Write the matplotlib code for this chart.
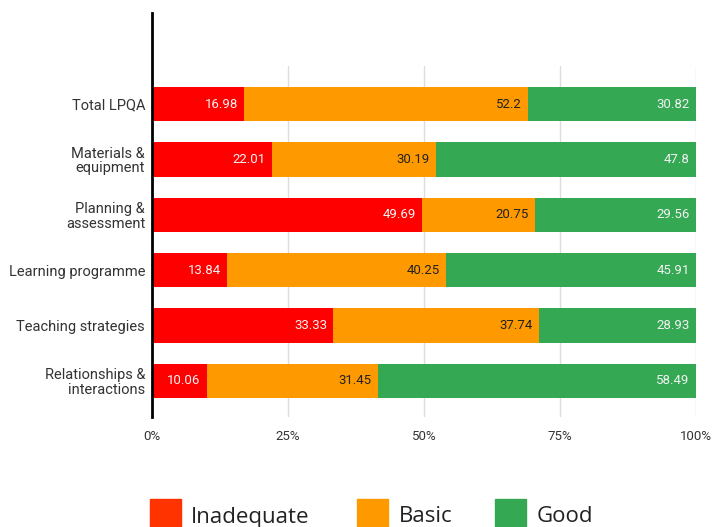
import numpy as np
import matplotlib.pyplot as plt
from matplotlib.patches import Rectangle

categories = ['Total LPQA', 'Materials &\nequipment', 'Planning &\nassessment',
              'Learning programme', 'Teaching strategies', 'Relationships &\ninteractions']
inadequate = [16.98, 22.01, 49.69, 13.84, 33.33, 10.06]
basic = [52.2, 30.19, 20.75, 40.25, 37.74, 31.45]
good = [30.82, 47.8, 29.56, 45.91, 28.93, 58.49]
series_names = ['Inadequate', 'Basic', 'Good']
xticks = [0, 25, 50, 75, 100]

bar_colors = ['#ff0000', '#ff9900', '#34a853']
legend_colors = ['#ff3300', '#ff9900', '#34a853']
text_colors = ['#f2f2f2', '#222222', '#f2f2f2']

plt.rcParams['font.family'] = ['Roboto', 'DejaVu Sans']

fig = plt.figure(figsize=(7.14, 5.27), dpi=100)
ax = fig.add_axes([152 / 714, 1 - 417 / 527, 544 / 714, 351 / 527])

y = np.arange(len(categories))
left = np.zeros(len(categories))
for vals, col, tcol in zip([inadequate, basic, good], bar_colors, text_colors):
    vals = np.array(vals)
    ax.barh(y, vals, left=left, height=0.62, color=col, zorder=2)
    for yi, l, v in zip(y, left, vals):
        ax.annotate(f'{v:g}', xy=(l + v, yi), xytext=(-4.5, 0), textcoords='offset points',
                    ha='right', va='center', fontsize=9.5, color=tcol, zorder=3)
    left = left + vals

ax.set_xlim(0, 100)
ax.set_ylim(len(categories) - 1 + 0.65, -0.686)
ax.set_yticks(y)
ax.set_yticklabels(categories, fontsize=10.5, color='#333333', linespacing=1.05)
ax.set_xticks(xticks)
ax.set_xticklabels([f'{t}%' for t in xticks], fontsize=9.5, color='#333333')
ax.tick_params(axis='both', length=0)
ax.tick_params(axis='y', pad=5)
ax.tick_params(axis='x', pad=9)
ax.grid(axis='x', color='#dddddd', linewidth=1, zorder=0)
for s in ['top', 'right', 'bottom', 'left']:
    ax.spines[s].set_visible(False)

# left axis line runs higher than the plot area
ax.plot([0, 0], [0, 1.151], transform=ax.transAxes, color='black', lw=2,
        clip_on=False, zorder=4)

# legend drawn along the bottom edge
sq_x = [150, 357, 495]
txt_x = [191, 399, 537]
for name, col, sx, tx in zip(series_names, legend_colors, sq_x, txt_x):
    fig.add_artist(Rectangle((sx / 714, 1 - 530 / 527), 31 / 714, 31 / 527,
                             transform=fig.transFigure, color=col))
    fig.text(tx / 714, 1 - 514.5 / 527, name, fontsize=16, color='#222222',
             family=['Open Sans', 'DejaVu Sans'], ha='left', va='center_baseline')

fig.savefig('out.png', dpi=100)
